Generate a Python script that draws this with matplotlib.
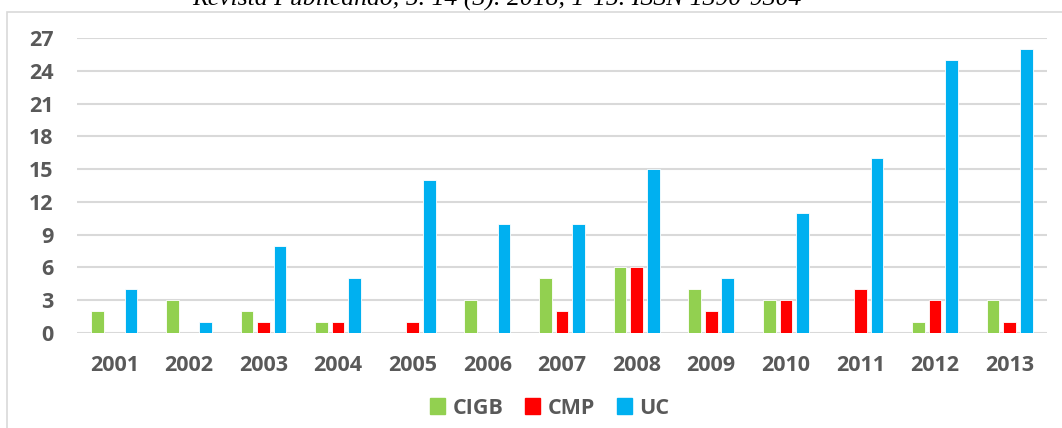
import matplotlib
matplotlib.use("Agg")
import matplotlib.pyplot as plt
import matplotlib.patches as mpatches
import numpy as np

years = ["2001", "2002", "2003", "2004", "2005", "2006", "2007",
         "2008", "2009", "2010", "2011", "2012", "2013"]
cigb = [2, 3, 2, 1, 0, 3, 5, 6, 4, 3, 0, 1, 3]
cmp_ = [0, 0, 1, 1, 1, 0, 2, 6, 2, 3, 4, 3, 1]
uc = [4, 1, 8, 5, 14, 10, 10, 15, 5, 11, 16, 25, 26]
yticks = [0, 3, 6, 9, 12, 15, 18, 21, 24, 27]

series = [("CIGB", cigb, "#92D050"), ("CMP", cmp_, "#FF0000"), ("UC", uc, "#00B0F0")]

W, H = 1062, 428
fig = plt.figure(figsize=(W / 100, H / 100), dpi=100)

# chart frame (cut off on the right and bottom)
fig.patches.append(mpatches.Rectangle((7 / W, -0.1), 1.2, (H - 12) / H + 0.1,
                                      transform=fig.transFigure, fill=False,
                                      edgecolor="#D9D9D9", linewidth=1.2))
fig.text(497 / W, (H - 6) / H, "Revista Publicando, 5. 14 (3). 2018, 1-15. ISSN 1390-9304",
         family="Liberation Serif", style="italic", fontsize=18.5, ha="center", va="baseline")

ax = fig.add_axes([77 / W, (H - 333) / H, 970 / W, 295 / H])
x = np.arange(len(years))
step = 0.222
width = 0.17
for i, (name, vals, col) in enumerate(series):
    ax.bar(x + (i - 1) * step, vals, width, color=col, edgecolor="white",
           linewidth=0.6, label=name, zorder=3)

ax.set_xlim(-0.5, len(years) - 0.5)
ax.set_ylim(0, 27)
ax.set_yticks(yticks)
ax.set_xticks(x)
ax.set_xticklabels(years)
ax.grid(axis="y", color="#D9D9D9", linewidth=1.5, zorder=0)
ax.set_axisbelow(True)
for s in ax.spines.values():
    s.set_visible(False)
ax.tick_params(length=0, colors="#595959")
font = {"family": "Open Sans", "weight": "bold", "size": 15.5}
for lab in ax.get_yticklabels() + ax.get_xticklabels():
    lab.set_fontproperties(font)
ax.tick_params(axis="y", pad=17)
ax.tick_params(axis="x", pad=16)

handles = [mpatches.Patch(color=c, label=n) for n, v, c in series]
leg = fig.legend(handles=handles, loc="center", bbox_to_anchor=(550 / W, 20 / H),
                 ncol=3, frameon=False, handlelength=0.7, handleheight=0.7,
                 handletextpad=0.35, columnspacing=1.0, prop=font)
for t in leg.get_texts():
    t.set_color("#595959")

fig.savefig("out.png", dpi=100)
